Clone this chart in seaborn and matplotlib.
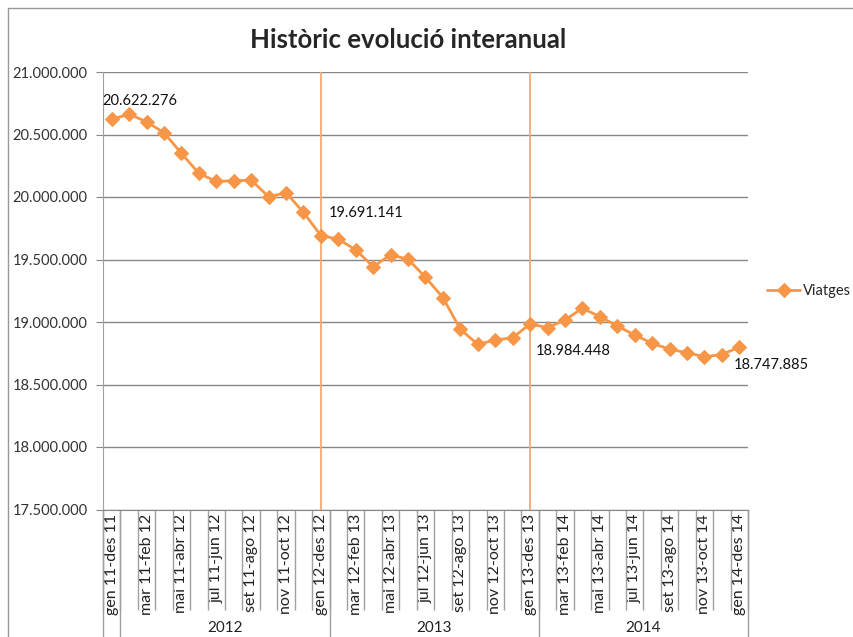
import numpy as np
import pandas as pd
import matplotlib.pyplot as plt
import matplotlib.ticker as mticker
from matplotlib.lines import Line2D
import seaborn as sns

# 12-month rolling total of trips, one value per month window
viatges = [
    20622276, 20662000, 20602000, 20514000, 20349000, 20189000, 20125000,
    20130000, 20135000, 20002000, 20034000, 19877000, 19691141,
    19663000, 19577000, 19443000, 19537000, 19502000, 19358000,
    19195000, 18941000, 18821000, 18856000, 18874000, 18984448,
    18955000, 19016000, 19110000, 19043000, 18968000, 18896000,
    18830000, 18782000, 18755000, 18722000, 18740000, 18799000,
]
tick_labels = [
    "gen 11-des 11", "mar 11-feb 12", "mai 11-abr 12", "jul 11-jun 12",
    "set 11-ago 12", "nov 11-oct 12", "gen 12-des 12", "mar 12-feb 13",
    "mai 12-abr 13", "jul 12-jun 13", "set 12-ago 13", "nov 12-oct 13",
    "gen 13-des 13", "mar 13-feb 14", "mai 13-abr 14", "jul 13-jun 14",
    "set 13-ago 14", "nov 13-oct 14", "gen 14-des 14",
]
years = ["2012", "2013", "2014"]
label_idx = [0, 12, 24, 36]
label_text = ["20.622.276", "19.691.141", "18.984.448", "18.747.885"]
label_offsets = [(-6.5, 13), (5.8, 16), (4.3, -19.5), (-4.3, -13)]

ORANGE = "#F79646"
GRID = "#878787"

sns.set_style("white")
plt.rcParams["font.family"] = ["Lato", "DejaVu Sans"]

df = pd.DataFrame({"pos": np.arange(len(viatges)), "Viatges": viatges})

fig = plt.figure(figsize=(8.54, 6.37), dpi=100)
ax = fig.add_axes([103 / 854, 1 - 509.5 / 637, 645 / 854, 437.5 / 637])

sns.lineplot(data=df, x="pos", y="Viatges", ax=ax, color=ORANGE, linewidth=2.0,
             marker="D", markersize=7, markeredgecolor=ORANGE, label="Viatges")

# year-end markers
for i in label_idx[1:3]:
    ax.axvline(i, color="#F9A86E", linewidth=1.3, zorder=1)

ax.set_xlim(-0.5, len(viatges) - 0.5)
ax.set_ylim(17500000, 21000000)
ax.yaxis.set_major_locator(mticker.MultipleLocator(500000))
ax.yaxis.set_major_formatter(mticker.FuncFormatter(lambda v, p: f"{v:,.0f}".replace(",", ".")))
ax.grid(axis="y", color=GRID, linewidth=1.0)
ax.set_axisbelow(True)
for s in ["top", "right"]:
    ax.spines[s].set_visible(False)
ax.spines["left"].set_color("#a0a0a0")
ax.spines["bottom"].set_color(GRID)
ax.tick_params(axis="y", length=5, color=GRID, pad=6, labelsize=10.5, labelcolor="#333333", left=True)

ax.set_xticks(np.arange(0, len(viatges), 2))
ax.set_xticklabels(tick_labels, rotation=90, fontsize=11.5, color="#222222")
ax.set_xticks(np.arange(-0.5, len(viatges), 1), minor=True)
ax.tick_params(axis="x", which="major", length=0, pad=3)
ax.tick_params(axis="x", which="minor", length=72, color="#a0a0a0", width=1, bottom=True)
ax.set_xlabel("")
ax.set_ylabel("")

# year group separators and labels below the axis
trans = ax.get_xaxis_transform()
for b in [-0.5, 0.5, 12.5, 24.5, 36.5]:
    ax.plot([b, b], [0, -0.33], transform=trans, color="#a0a0a0", linewidth=1, clip_on=False)
for k, y in enumerate(years):
    ax.text(6.5 + 12 * k, -0.272, y, transform=trans, ha="center", va="center",
            fontsize=11, color="#222222")

for i, t, off in zip(label_idx, label_text, label_offsets):
    ax.annotate(t, (i, viatges[i]), xytext=off, textcoords="offset points",
                ha="left", va="center", fontsize=10.5, color="#111111")

ax.legend(loc="center left", bbox_to_anchor=(1.02, 1 - (291 - 72) / 437.5), frameon=False,
          handlelength=2.3, handletextpad=0.2, fontsize=10.5, borderaxespad=0)

fig.text(408 / 854, 1 - 40 / 637, "Històric evolució interanual", ha="center", va="center",
         fontsize=18.5, fontweight="bold")

# outer chart frame
fig.add_artist(Line2D([8 / 854, 1], [1 - 8 / 637, 1 - 8 / 637], color="#999999", linewidth=1))
fig.add_artist(Line2D([8 / 854, 8 / 854], [0, 1 - 8 / 637], color="#999999", linewidth=1))

fig.savefig("out.png", dpi=100)
